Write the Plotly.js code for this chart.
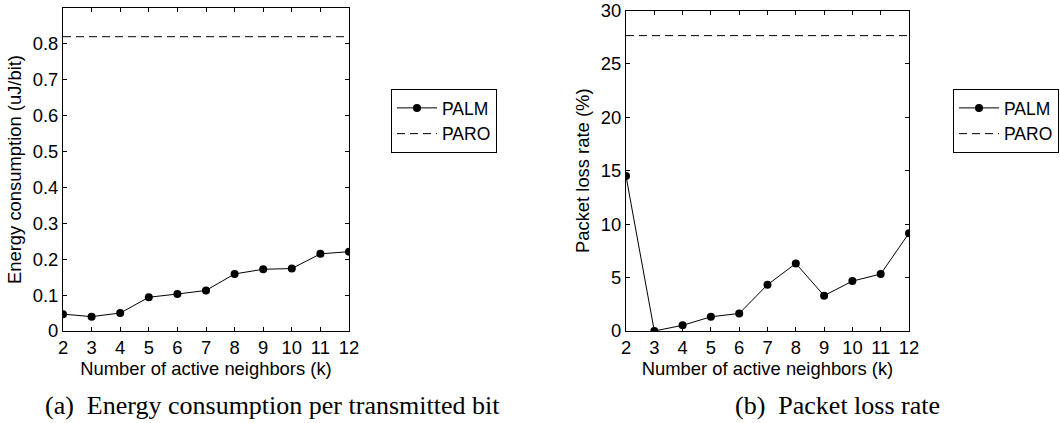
<!DOCTYPE html>
<html>
<head>
<meta charset="utf-8">
<script src="https://cdn.plot.ly/plotly-3.0.1.min.js"></script>
<style>
  html, body { margin: 0; padding: 0; background: #fff; }
  #chart { width: 1060px; height: 423px; }
</style>
</head>
<body>
<div id="chart"></div>
<script>
// Number of active neighbors (k)
const k = [2, 3, 4, 5, 6, 7, 8, 9, 10, 11, 12];

// (a) Energy consumption per transmitted bit (uJ/bit)
const palmEnergy = [0.047, 0.040, 0.050, 0.094, 0.103, 0.113, 0.159, 0.172, 0.174, 0.215, 0.221];
const paroEnergy = [0.82, 0.82, 0.82, 0.82, 0.82, 0.82, 0.82, 0.82, 0.82, 0.82, 0.82];

// (b) Packet loss rate (%)
const palmLoss = [14.5, 0.0, 0.53, 1.33, 1.64, 4.33, 6.32, 3.31, 4.67, 5.33, 9.16];
const paroLoss = [27.65, 27.65, 27.65, 27.65, 27.65, 27.65, 27.65, 27.65, 27.65, 27.65, 27.65];

const energyTicks = [0, 0.1, 0.2, 0.3, 0.4, 0.5, 0.6, 0.7, 0.8];
const lossTicks = [0, 5, 10, 15, 20, 25, 30];

const W = 1060, H = 423;
const FONT = 'Liberation Sans, Arial, sans-serif';
const SERIF = 'Liberation Serif, Times New Roman, serif';
const FS = 18.4;

const palmStyle = {
  mode: 'lines+markers',
  line: { color: '#000', width: 1 },
  marker: { color: '#000', size: 8, symbol: 'circle' }
};
const paroStyle = {
  mode: 'lines',
  line: { color: '#000', width: 1, dash: '8px,5px' }
};

const traces = [
  Object.assign({ x: k, y: palmEnergy, name: 'PALM', xaxis: 'x', yaxis: 'y', legend: 'legend' }, palmStyle),
  Object.assign({ x: k, y: paroEnergy, name: 'PARO', xaxis: 'x', yaxis: 'y', legend: 'legend' }, paroStyle),
  Object.assign({ x: k, y: palmLoss, name: 'PALM', xaxis: 'x2', yaxis: 'y2', legend: 'legend2' }, palmStyle),
  Object.assign({ x: k, y: paroLoss, name: 'PARO', xaxis: 'x2', yaxis: 'y2', legend: 'legend2' }, paroStyle)
];

function xAxis(domain, anchor) {
  return {
    domain: domain, anchor: anchor,
    range: [2, 12], tickvals: k, ticktext: k.map(String),
    ticks: 'inside', ticklen: 4, tickcolor: '#000', tickwidth: 1,
    showline: true, linecolor: '#000', linewidth: 1, mirror: 'ticks',
    showgrid: false, zeroline: false, ticklabeloverflow: 'allow',
    tickfont: { family: FONT, size: FS, color: '#000' },
    title: { text: 'Number of active neighbors (k)', font: { family: FONT, size: FS, color: '#000' }, standoff: 0 },
    fixedrange: true
  };
}
function yAxis(domain, anchor, range, ticks, title) {
  return {
    domain: domain, anchor: anchor,
    range: range, tickvals: ticks, ticktext: ticks.map(String),
    ticks: 'inside', ticklen: 4, tickcolor: '#000', tickwidth: 1,
    showline: true, linecolor: '#000', linewidth: 1, mirror: 'ticks',
    showgrid: false, zeroline: false, ticklabeloverflow: 'allow',
    tickfont: { family: FONT, size: FS, color: '#000' },
    title: { text: title, font: { family: FONT, size: FS, color: '#000' }, standoff: 6 },
    fixedrange: true
  };
}

const legendBase = {
  font: { family: FONT, size: 17.5, color: '#000' },
  bgcolor: '#fff', bordercolor: '#000', borderwidth: 1,
  xanchor: 'left', yanchor: 'top', yref: 'paper', xref: 'paper',
  itemwidth: 40, tracegroupgap: 0
};

const layout = {
  width: W, height: H,
  margin: { l: 0, r: 0, t: 0, b: 0 },
  paper_bgcolor: '#fff', plot_bgcolor: '#fff',
  showlegend: true,
  xaxis: xAxis([63 / W, 349 / W], 'y'),
  yaxis: yAxis([1 - 331 / H, 1 - 8 / H], 'x', [0, 0.9], energyTicks, 'Energy consumption (uJ/bit)'),
  xaxis2: xAxis([626 / W, 909 / W], 'y2'),
  yaxis2: yAxis([1 - 331 / H, 1 - 10.5 / H], 'x2', [0, 30], lossTicks, 'Packet loss rate (%)'),
  legend: Object.assign({ x: 391 / W, y: 1 - 89 / H }, legendBase),
  legend2: Object.assign({ x: 953 / W, y: 1 - 89 / H }, legendBase),
  annotations: [
    {
      text: '(a)\u00A0 Energy consumption per transmitted bit',
      xref: 'paper', yref: 'paper', x: 43 / W, y: 1 - 405 / H,
      xanchor: 'left', yanchor: 'middle', showarrow: false,
      font: { family: SERIF, size: 26, color: '#000' }
    },
    {
      text: '(b)\u00A0 Packet loss rate',
      xref: 'paper', yref: 'paper', x: 733 / W, y: 1 - 405 / H,
      xanchor: 'left', yanchor: 'middle', showarrow: false,
      font: { family: SERIF, size: 26, color: '#000' }
    }
  ]
};

Plotly.newPlot('chart', traces, layout, { displayModeBar: false, staticPlot: true });
</script>
</body>
</html>
